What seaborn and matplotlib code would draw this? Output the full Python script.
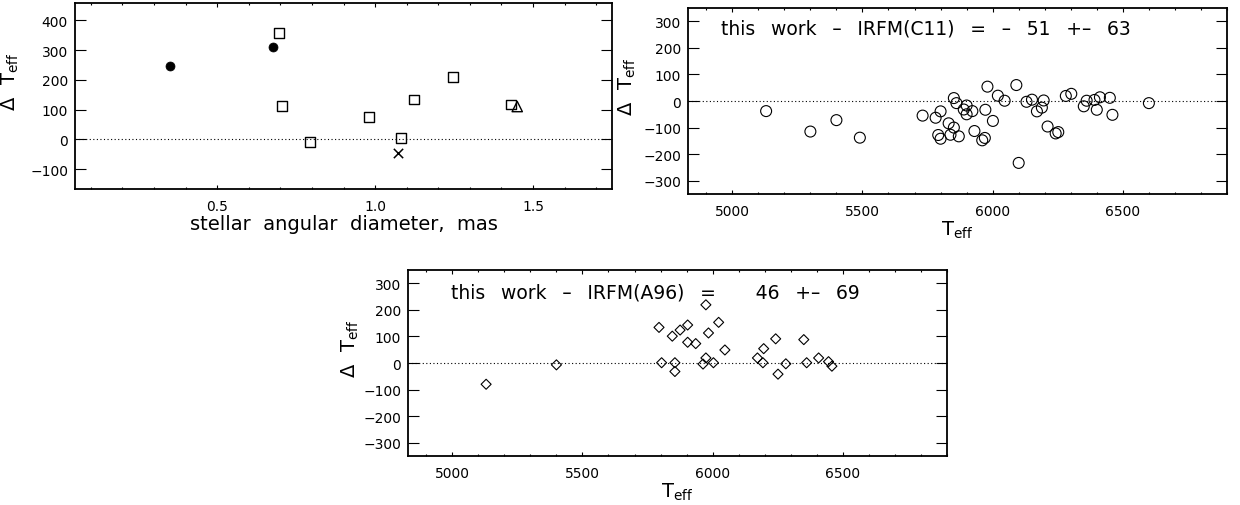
import matplotlib
matplotlib.use("Agg")
import matplotlib.pyplot as plt
from matplotlib.ticker import FixedLocator, MultipleLocator, FixedFormatter
import seaborn as sns

# --- stellar angular diameter comparison ---
diam_filled = [0.350, 0.677]
dteff_filled = [246, 311]
diam_square = [0.695, 0.706, 0.794, 0.980, 1.081, 1.122, 1.247, 1.431]
dteff_square = [358, 111, -8, 76, 3, 134, 208, 117]
diam_cross = [1.073]
dteff_cross = [-47]
diam_tri = [1.450]
dteff_tri = [110]

# --- this work minus IRFM (C11) ---
teff_c11 = [5130, 5300, 5400, 5490, 5731, 5781, 5800, 5831, 5851, 5851,
            5791, 5800, 5838, 5861, 5870, 5889, 5900, 5900, 5922, 5930,
            5960, 5970, 5972, 5980, 6001, 6020, 6046, 6091, 6100, 6130,
            6151, 6170, 6189, 6196, 6211, 6242, 6252, 6281, 6302, 6350,
            6361, 6391, 6400, 6412, 6450, 6460, 6600]
dteff_c11 = [-38, -115, -72, -138, -55, -63, -39, -84, 11, -100,
             -128, -142, -127, -8, -133, -32, -17, -50, -38, -113,
             -148, -139, -33, 54, -75, 20, 1, 60, -233, -3,
             5, -39, -25, 2, -96, -122, -117, 19, 27, -20,
             1, 4, -33, 14, 12, -52, -8]

# --- this work minus IRFM (A96) ---
teff_a96 = [5130, 5400, 5794, 5804, 5845, 5855, 5855, 5875, 5904, 5904,
            5935, 5974, 5974, 5963, 5984, 6003, 6023, 6047, 6172, 6193,
            6196, 6242, 6251, 6281, 6350, 6361, 6407, 6445, 6458]
dteff_a96 = [-80, -7, 134, 1, 101, 1, -32, 124, 143, 78,
             73, 219, 19, -4, 113, 1, 153, 49, 19, 1,
             54, 91, -42, -3, 88, 1, 19, 5, -12]

# wide word gaps, in the style of the plotting package's vector font
GAP = "  \u2009"
label_c11 = GAP.join(["this", "work", "–", "IRFM(C11)", "=", "–", "51", "+–", "63"])
label_a96 = GAP.join(["this", "work", "–", "IRFM(A96)", "=" + "    ", "46", "+–", "69"])

sns.set_theme(style="ticks")
plt.rcParams["font.family"] = ["DejaVu Sans"]
plt.rcParams["mathtext.fontset"] = "dejavusans"

W, H = 1240, 506
fig = plt.figure(figsize=(W / 100, H / 100), dpi=100)
fig.patch.set_facecolor("white")


def px_axes(left, top, right, bottom):
    return fig.add_axes([left / W, 1 - bottom / H, (right - left) / W, (bottom - top) / H])


def style_axes(ax, xmajor, xminor, yticks, tick_fs):
    ax.set_facecolor("white")
    for sp in ax.spines.values():
        sp.set_linewidth(1.3)
        sp.set_color("black")
    ax.xaxis.set_major_locator(FixedLocator(xmajor))
    ax.xaxis.set_minor_locator(MultipleLocator(xminor))
    ax.yaxis.set_major_locator(FixedLocator(yticks))
    ax.tick_params(axis="both", which="both", direction="in", top=True, right=True,
                   color="black", width=0.8, labelsize=tick_fs, labelcolor="black")
    ax.tick_params(axis="x", which="major", length=3.2, pad=7)
    ax.tick_params(axis="x", which="minor", length=1.6)
    ax.tick_params(axis="y", which="major", length=8, pad=5)
    ax.tick_params(axis="y", which="minor", length=0)
    ax.grid(False)
    ax.axhline(0, color="black", lw=0.8, ls=(0, (1, 2.2)), zorder=1)


ylab = r"$\Delta\ \ \mathrm{T}_{\mathrm{eff}}$"

# Panel 1: angular diameter
ax1 = px_axes(75, 4, 612, 190)
sns.scatterplot(x=diam_filled, y=dteff_filled, ax=ax1, marker="o", s=42,
                color="black", edgecolor="black", linewidth=0.5, zorder=3)
sns.scatterplot(x=diam_square, y=dteff_square, ax=ax1, marker="s", s=50,
                color="black", facecolor="none", edgecolor="black", linewidth=1.0, zorder=3)
sns.scatterplot(x=diam_cross, y=dteff_cross, ax=ax1, marker="x", s=45,
                color="black", linewidth=1.1, zorder=3)
sns.scatterplot(x=diam_tri, y=dteff_tri, ax=ax1, marker="^", s=55,
                color="black", facecolor="none", edgecolor="black", linewidth=1.0, zorder=3)
ax1.set_xlim(0.05, 1.75)
ax1.set_ylim(-167, 458)
style_axes(ax1, [0.5, 1.0, 1.5], 0.1, [-100, 0, 100, 200, 300, 400], 10)
ax1.xaxis.set_major_formatter(FixedFormatter(["0.5", "1.0", "1.5"]))
ax1.set_xlabel("stellar  angular  diameter,  mas", fontsize=14, labelpad=1, color="black")
ax1.set_ylabel(ylab, fontsize=14, color="black")
ax1.yaxis.set_label_coords(-54 / 537, 0.58)

# Panel 2: IRFM (C11)
ax2 = px_axes(688, 9, 1227, 195)
sns.scatterplot(x=teff_c11, y=dteff_c11, ax=ax2, marker="o", s=62,
                color="black", facecolor="none", edgecolor="black", linewidth=0.8, zorder=3)
ax2.set_xlim(4830, 6900)
ax2.set_ylim(-350, 350)
style_axes(ax2, [5000, 5500, 6000, 6500], 100, [-300, -200, -100, 0, 100, 200, 300], 10)
ax2.set_xlabel(r"$\mathrm{T}_{\mathrm{eff}}$", fontsize=14, labelpad=1, color="black")
ax2.set_ylabel(ylab, fontsize=14, color="black")
ax2.yaxis.set_label_coords(-50 / 539, 0.58)
ax2.text(4955, 253, label_c11, fontsize=13.5, va="baseline", ha="left", color="black")

# Panel 3: IRFM (A96)
ax3 = px_axes(408, 271, 947, 457)
sns.scatterplot(x=teff_a96, y=dteff_a96, ax=ax3, marker="D", s=26,
                color="black", facecolor="none", edgecolor="black", linewidth=0.8, zorder=3)
ax3.set_xlim(4830, 6900)
ax3.set_ylim(-350, 350)
style_axes(ax3, [5000, 5500, 6000, 6500], 100, [-300, -200, -100, 0, 100, 200, 300], 10)
ax3.set_xlabel(r"$\mathrm{T}_{\mathrm{eff}}$", fontsize=14, labelpad=1, color="black")
ax3.set_ylabel(ylab, fontsize=14, color="black")
ax3.yaxis.set_label_coords(-47 / 539, 0.58)
ax3.text(4997, 247, label_a96, fontsize=13.5, va="baseline", ha="left", color="black")

fig.savefig("out.png", dpi=100, facecolor="white")
